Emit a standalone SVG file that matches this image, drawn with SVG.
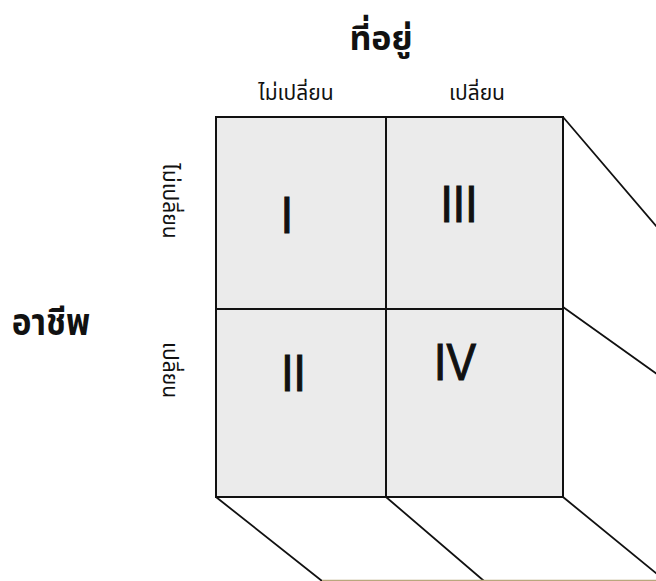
<svg xmlns="http://www.w3.org/2000/svg" width="656" height="581" viewBox="0 0 656 581">
<style>
.cell{fill:#ebebeb;stroke:#111;stroke-width:2}
.edge{fill:none;stroke:#111;stroke-width:1.8;stroke-linecap:round}
.thai{font-family:"Noto Sans Thai","Noto Sans","DejaVu Sans",sans-serif;fill:#111}
.title{font-size:34px;font-weight:bold}
.sub{font-size:21px}
.num{font-family:"Liberation Sans","Arial",sans-serif;font-size:52px;fill:#111;stroke:#111;stroke-width:1.2;text-anchor:middle}
</style>
<rect width="656" height="581" fill="#fff"/>
<g id="cell-I"><rect class="cell" x="216" y="117" width="170" height="192"/><text class="num" transform="translate(287,233) scale(0.85,1)">I</text></g>
<g id="cell-III"><rect class="cell" x="386" y="117" width="177" height="192"/><text class="num" transform="translate(459,222) scale(0.85,1)">III</text></g>
<g id="cell-II"><rect class="cell" x="216" y="309" width="170" height="188"/><text class="num" transform="translate(293.5,391) scale(0.85,1)">II</text></g>
<g id="cell-IV"><rect class="cell" x="386" y="309" width="177" height="188"/><text class="num" transform="translate(455,380) scale(0.85,1)">IV</text></g>
<g id="connectors">
<line class="edge" x1="563" y1="117" x2="657" y2="227"/>
<line class="edge" x1="563" y1="307" x2="657" y2="374"/>
<line class="edge" x1="216" y1="497" x2="322" y2="581"/>
<line class="edge" x1="386" y1="497" x2="484" y2="581"/>
<line class="edge" x1="563" y1="497" x2="657" y2="574"/>
<line x1="322" y1="580.5" x2="656" y2="580.5" stroke="#b9a77d" stroke-width="1.5"/>
</g>
<g id="label-residence"><text class="thai title" x="381" y="50" text-anchor="middle">ที่อยู่</text></g>
<g id="label-col1"><text class="thai sub" x="296" y="100" text-anchor="middle">ไม่เปลี่ยน</text></g>
<g id="label-col2"><text class="thai sub" x="477" y="100" text-anchor="middle">เปลี่ยน</text></g>
<g id="label-occupation"><text class="thai title" transform="translate(51,335) scale(0.9,1)" text-anchor="middle" style="font-size:37px">อาชีพ</text></g>
<g id="label-row1"><text class="thai sub" transform="translate(163,201) rotate(90)" text-anchor="middle">ไม่เปลี่ยน</text></g>
<g id="label-row2"><text class="thai sub" transform="translate(163,370) rotate(90)" text-anchor="middle">เปลี่ยน</text></g>
</svg>
